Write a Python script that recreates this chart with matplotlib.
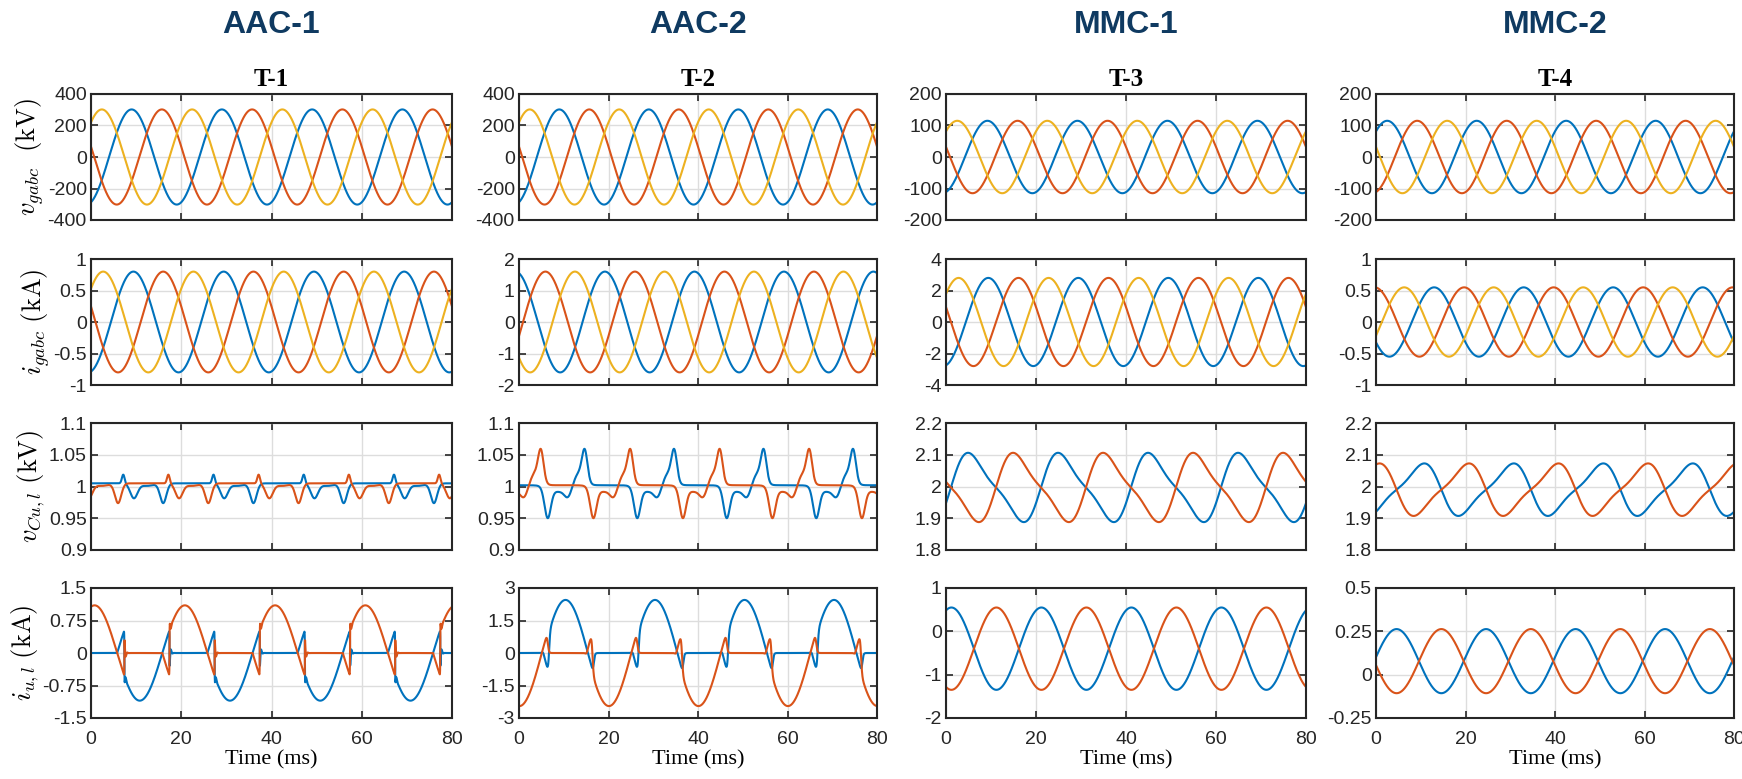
import numpy as np
import matplotlib.pyplot as plt

# ---- 텍스트 ----
converters = ["AAC-1", "AAC-2", "MMC-1", "MMC-2"]
tests = ["T-1", "T-2", "T-3", "T-4"]
row_labels = [r"$v_{gabc}\ \ \mathrm{(kV)}$", r"$i_{gabc}\ \mathrm{(kA)}$",
              r"$v_{Cu,l}\ \mathrm{(kV)}$", r"$i_{u,l}\ \mathrm{(kA)}$"]
time_ticks = [0, 20, 40, 60, 80]

# ---- y축 눈금 (행 x 열) ----
yticks = [
    [[-400, -200, 0, 200, 400], [-400, -200, 0, 200, 400], [-200, -100, 0, 100, 200], [-200, -100, 0, 100, 200]],
    [[-1, -0.5, 0, 0.5, 1], [-2, -1, 0, 1, 2], [-4, -2, 0, 2, 4], [-1, -0.5, 0, 0.5, 1]],
    [[0.9, 0.95, 1, 1.05, 1.1], [0.9, 0.95, 1, 1.05, 1.1], [1.8, 1.9, 2, 2.1, 2.2], [1.8, 1.9, 2, 2.1, 2.2]],
    [[-1.5, -0.75, 0, 0.75, 1.5], [-3, -1.5, 0, 1.5, 3], [-2, -1, 0, 1], [-0.25, 0, 0.25, 0.5]],
]

# ---- 1행: 계통 전압, 상별 진폭(kV)과 첨두 시각(ms) [a, b, c] ----
vg_amp = [302, 302, 115, 115]
vg_peak = [[9.0, 15.7, 2.4], [9.0, 15.7, 2.4], [9.2, 15.9, 2.5], [2.5, 9.2, 15.9]]

# ---- 2행: 계통 전류 ----
ig_amp = [0.8, 1.6, 2.8, 0.55]
ig_peak = [[9.4, 16.0, 2.7], [19.2, 5.9, 12.5], [9.4, 16.1, 2.8], [13.0, 19.7, 6.3]]

# ---- 3행 AAC: 커패시터 전압 (평탄 전압, 도통 시작 시각[상암, 하암], 리플 성분) ----
vc_flat = [1.005, 1.002]
vc_start = [[7.0, 17.0], [4.2, 14.4]]
vc_center = [[0.15, 2.5, 5.4, 9.0], [2.2, 4.6, 6.8, 10.5, 9.3]]
vc_sigma = [[0.3, 0.8, 1.5, 0.7], [0.7, 2.0, 0.8, 0.6, 1.2]]
vc_height = [[0.014, -0.023, -0.004, -0.031], [-0.047, -0.010, -0.015, 0.045, 0.020]]

# ---- 3행 MMC: 평균, 기본파/2고조파 진폭, 기준 시각[상암, 하암] ----
mmc_vc_dc = [1.997, 1.99]
mmc_vc_a1 = [0.099, 0.075]
mmc_vc_a2 = [0.025, -0.019]
mmc_vc_t0 = [[1.1, 11.1], [4.6, 14.6]]

# ---- 4행 AAC: 암 전류 (진폭[상암, 하암], 첨두 시각, 중첩 시간, 스파이크) ----
arm_amp = [[-1.1, 1.1], [2.45, -2.45]]
arm_peak = [[10.8, 0.8], [10.4, 0.1]]
arm_overlap = [1.6, 1.3]
arm_spike = [0.9, 0.0]
arm_edge = [0.04, 0.25]

# ---- 4행 MMC: 암 전류 ----
mmc_i_dc = [-0.40, 0.078]
mmc_i_amp = [0.95, 0.185]
mmc_i_peak = [1.2, 4.6]

BLUE, RED, YELLOW = "#0072BD", "#D95319", "#EDB120"
W = 2 * np.pi / 20.0  # 50 Hz, ms 단위
t = np.linspace(0, 80, 8001)


def sig(z, tr):
    return 0.5 * (1 + np.tanh(z / tr))


def aac_arm(amp, tp, d, spike, tr):
    x = (t - tp + 10) % 20 - 10
    hump = amp * np.cos(W * x)
    s_on, s_off = -5 + d, 5 + d
    f_on = sig(x - s_on, tr) * (1 - sig(x - s_off, tr))
    f_ov = sig(x + 5, tr) * (1 - sig(x - s_on, tr))
    y = hump * (f_on - f_ov)
    if spike > 0:
        u_off = x - s_off
        u_on = x - s_on
        h_off = amp * np.cos(W * s_off)
        h_on = amp * np.cos(W * s_on)
        osc_off = np.where(u_off >= 0, np.exp(-u_off / 0.18) * np.cos(2 * np.pi * u_off / 0.7), 0)
        osc_on = np.where(u_on >= 0, np.exp(-u_on / 0.18) * np.cos(2 * np.pi * u_on / 0.7), 0)
        y = y - h_off * spike * osc_off + h_on * 0.6 * spike * osc_on
    return y


def aac_cap(flat, start, centers, sigmas, heights):
    x = (t - start) % 20
    y = np.full_like(t, flat)
    for c, s, h in zip(centers, sigmas, heights):
        for k in (-20, 0, 20):
            y += h * np.exp(-0.5 * ((x + k - c) / s) ** 2)
    return y


plt.rcParams["axes.unicode_minus"] = False
plt.rcParams["mathtext.fontset"] = "cm"

fig = plt.figure(figsize=(17.42, 7.79), dpi=100)
col_left = [91, 519, 946, 1376]
col_width = [361, 358, 360, 358]
row_top = [94, 259, 423, 588]
row_bottom = [220, 385, 550, 718]

for c in range(4):
    for r in range(4):
        ax = fig.add_axes([col_left[c] / 1742, 1 - row_bottom[r] / 779,
                           col_width[c] / 1742, (row_bottom[r] - row_top[r]) / 779])
        if r == 0:
            for k, col in enumerate([BLUE, RED, YELLOW]):
                ax.plot(t, vg_amp[c] * np.cos(W * (t - vg_peak[c][k])), color=col, lw=1.5)
        elif r == 1:
            for k, col in enumerate([BLUE, RED, YELLOW]):
                ax.plot(t, ig_amp[c] * np.cos(W * (t - ig_peak[c][k])), color=col, lw=1.5)
        elif r == 2:
            if c < 2:
                for k, col in enumerate([BLUE, RED]):
                    ax.plot(t, aac_cap(vc_flat[c], vc_start[c][k], vc_center[c],
                                       vc_sigma[c], vc_height[c]), color=col, lw=1.5)
            else:
                m = c - 2
                for k, col in enumerate([BLUE, RED]):
                    th = W * (t - mmc_vc_t0[m][k])
                    ax.plot(t, mmc_vc_dc[m] + mmc_vc_a1[m] * np.sin(th) + mmc_vc_a2[m] * np.sin(2 * th),
                            color=col, lw=1.5)
        else:
            if c < 2:
                for k, col in enumerate([BLUE, RED]):
                    ax.plot(t, aac_arm(arm_amp[c][k], arm_peak[c][k], arm_overlap[c],
                                       arm_spike[c], arm_edge[c]), color=col, lw=1.5)
            else:
                m = c - 2
                ax.plot(t, mmc_i_dc[m] + mmc_i_amp[m] * np.cos(W * (t - mmc_i_peak[m])), color=BLUE, lw=1.5)
                ax.plot(t, mmc_i_dc[m] - mmc_i_amp[m] * np.cos(W * (t - mmc_i_peak[m])), color=RED, lw=1.5)

        ax.set_xlim(0, 80)
        ax.set_ylim(yticks[r][c][0], yticks[r][c][-1])
        ax.set_xticks(time_ticks)
        ax.set_yticks(yticks[r][c])
        ax.set_yticklabels(["%g" % v for v in yticks[r][c]])
        ax.grid(True, color="#DDDDDD", lw=1.0)
        ax.set_axisbelow(True)
        ax.tick_params(direction="in", top=True, right=True, length=5, width=1.2,
                       labelsize=14, colors="#262626", labelcolor="#262626")
        ax.tick_params(axis="x", pad=9)
        ax.tick_params(axis="y", pad=3)
        for lab in ax.get_xticklabels() + ax.get_yticklabels():
            lab.set_fontfamily("Liberation Sans")
        for s in ax.spines.values():
            s.set_linewidth(1.5)
            s.set_color("#262626")
        if r < 3:
            ax.set_xticklabels([])
        else:
            ax.set_xlabel("Time (ms)", fontfamily="Liberation Serif", fontsize=16, labelpad=2)
        if c == 0:
            ax.set_ylabel(row_labels[r], fontsize=19, labelpad=1)
        if r == 0:
            ax.set_title(tests[c], fontfamily="Liberation Serif", fontweight="bold", fontsize=18, pad=6)
            fig.text((col_left[c] + col_width[c] / 2) / 1742, 1 - 25 / 779, converters[c],
                     ha="center", va="center", fontfamily="Liberation Sans", fontweight="bold",
                     fontsize=23, color="#0F3A61")

fig.savefig("out.png", dpi=100)
